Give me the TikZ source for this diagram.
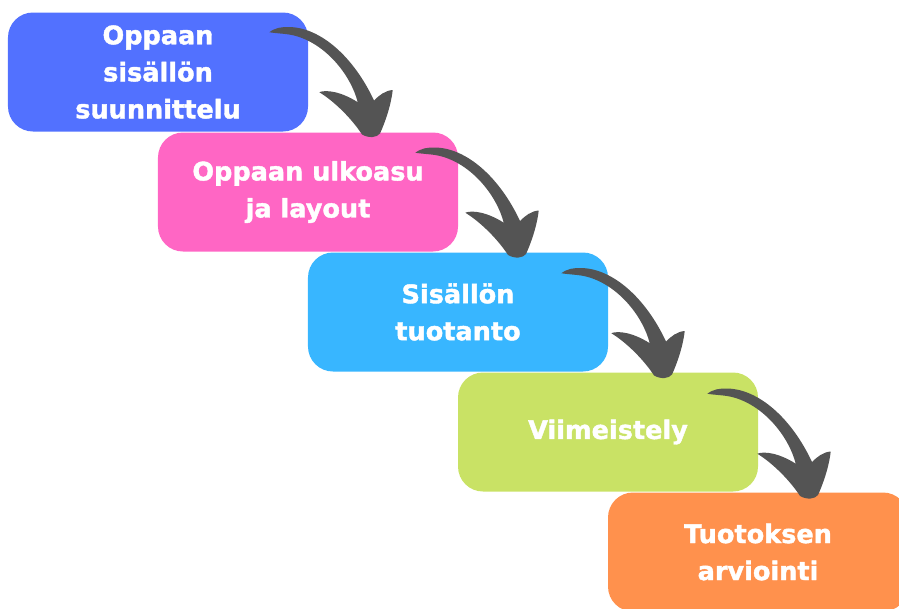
\documentclass[tikz,border=0pt]{standalone}
\usepackage{fontspec}
\setmainfont{DejaVu Sans}
\newfontfamily\heavyfont{DejaVu Sans}[BoldFeatures={FakeBold=1.6}]
\usetikzlibrary{calc}
\definecolor{cblue}{HTML}{5271FF}
\definecolor{cpink}{HTML}{FF66C4}
\definecolor{ccyan}{HTML}{38B6FF}
\definecolor{cgreen}{HTML}{C9E265}
\definecolor{corange}{HTML}{FF914D}
\definecolor{cgray}{HTML}{545454}
\tikzset{
  stepbox/.style={rectangle, rounded corners=0.75cm, minimum width=9cm, minimum height=3.57cm,
    inner sep=0pt, outer sep=0pt, align=center, text=white,
    font=\fontsize{21.8}{31.6}\selectfont\heavyfont\bfseries},
  curvearrow/.pic={
    \fill[cgray] (0,0) .. controls (6.7,-4.7) and (11.7,-5.2) .. (19.7,-5.2)
      .. controls (51.7,-4.7) and (84.7,25.3) .. (104.7,68.3)
      .. controls (109.7,63.3) and (115.7,58.3) .. (123.4,57.8)
      .. controls (121.7,73.3) and (115.7,90.3) .. (110.7,101.3)
      .. controls (107.7,105.3) and (99.7,106.3) .. (92.7,102.3)
      .. controls (83.7,88.3) and (66.7,70.3) .. (50,60)
      .. controls (56.7,57.3) and (71.7,59.3) .. (88.4,70)
      .. controls (81.7,43.3) and (56.7,11.3) .. (24.7,3.3)
      .. controls (16.7,1.3) and (6.7,1.3) .. (0,0) -- cycle;
  }
}
\begin{document}
\begin{tikzpicture}[x=0.03cm, y=-0.03cm]
\useasboundingbox (0,0) rectangle (899,608);
\clip (0,0) rectangle (899,608);
\node[stepbox, fill=cblue]   (b1) at (158,72)  {Oppaan\\sisällön\\suunnittelu};
\node[stepbox, fill=cpink]   (b2) at (308,192) {Oppaan ulkoasu\\ja layout};
\node[stepbox, fill=ccyan]   (b3) at (458,312) {Sisällön\\tuotanto};
\node[stepbox, fill=cgreen]  (b4) at (608,432) {Viimeistely};
\node[stepbox, fill=corange] (b5) at (758,552) {Tuotoksen\\arviointi};
\pic at ($(b1.north east)+(-38.7,19.7)$) {curvearrow};
\pic at ($(b2.north east)+(-42.7,20.2)$) {curvearrow};
\pic at ($(b3.north east)+(-46.7,20.7)$) {curvearrow};
\pic at ($(b4.north east)+(-50.7,21.2)$) {curvearrow};
\end{tikzpicture}
\end{document}
